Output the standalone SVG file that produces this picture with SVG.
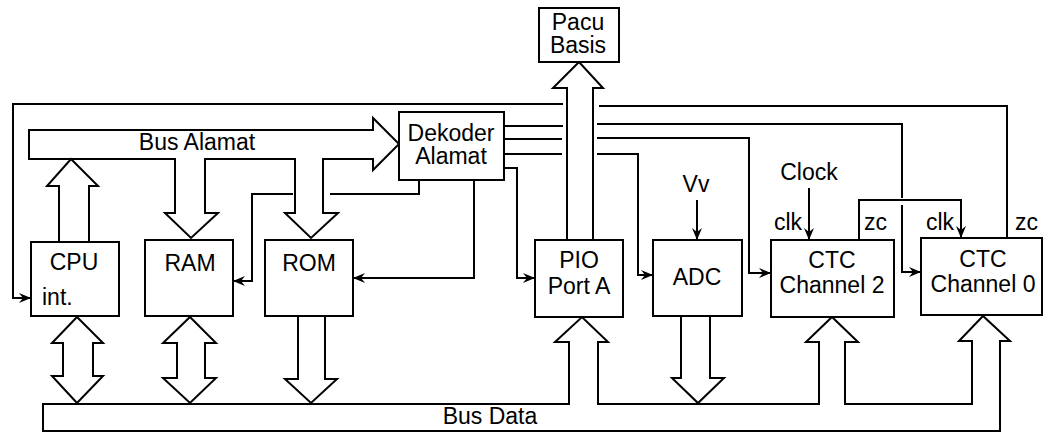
<svg xmlns="http://www.w3.org/2000/svg" width="1044" height="432" viewBox="0 0 1044 432">
<style>
.box{fill:#fff;stroke:#000;stroke-width:2}
.bus{fill:#fff;stroke:#000;stroke-width:2;stroke-linejoin:miter}
.ln{fill:none;stroke:#000;stroke-width:2}
.ar{fill:none;stroke:#000;stroke-width:2;marker-end:url(#ah)}
text{font-family:"Liberation Sans",Arial,sans-serif;font-size:23px;fill:#000}
.c{text-anchor:middle}
</style>
<defs>
<marker id="ah" viewBox="0 0 12 10" refX="12" refY="5" markerWidth="12" markerHeight="10" orient="auto" markerUnits="userSpaceOnUse">
<path d="M0,0 L12,5 L0,10 L4,5 z" fill="#000"/>
</marker>
</defs>
<rect width="1044" height="432" fill="#fff"/>

<g id="buses">
<polygon class="bus" points="29,130 373,130 373,118 399,144 373,170 373,159 323,159 323,213 338,213 311,238 285,213 295,213 295,159 205,159 205,213 218,213 191,238 165,213 175,213 175,159 29,159"/>
<polygon class="bus" points="59,242 59,186 47,186 71,159 98,186 89,186 89,242"/>
<polygon class="bus" points="567,240 567,88 553,88 579,62 603,88 593,88 593,240"/>
<polygon class="bus" points="569,342 569,404 43,404 43,431 1000,431 1000,341 1010,341 983,316 959,341 972,341 972,404 845,404 845,342 858,342 832,317 806,342 819,342 819,404 598,404 598,342 608,342 582,317 555,342"/>
<polygon class="bus" points="77,317 103,343 93,343 93,376 103,376 77,403 52,376 63,376 63,343 52,343"/>
<polygon class="bus" points="190,317 216,343 205,343 205,378 216,378 190,403 163,378 177,378 177,343 163,343"/>
<polygon class="bus" points="298,316 298,379 285,379 311,403 337,379 325,379 325,316"/>
<polygon class="bus" points="681,316 681,378 672,378 698,403 724,378 710,378 710,316"/>
<text class="c" x="197" y="150">Bus Alamat</text>
<text class="c" x="490" y="424">Bus Data</text>
</g>

<g id="connectors">
<polyline class="ar" points="563,104 13,104 13,298 31,298"/>
<polyline class="ln" points="599,106 1007,106 1007,238"/>
<line class="ln" x1="504" y1="126" x2="563" y2="126"/>
<line class="ln" x1="504" y1="139" x2="562" y2="139"/>
<line class="ln" x1="504" y1="154" x2="562" y2="154"/>
<polyline class="ln" points="597,124 902,124 902,198"/>
<polyline class="ar" points="902,205 902,272 921,272"/>
<polyline class="ar" points="597,138 749,138 749,273 771,273"/>
<polyline class="ar" points="597,154 638,154 638,275 653,275"/>
<polyline class="ar" points="504,168 517,168 517,278 535,278"/>
<polyline class="ln" points="419,180 419,194 330,194"/>
<polyline class="ar" points="293,194 252,194 252,281 233,281"/>
<polyline class="ar" points="474,180 474,278 353,278"/>
<line class="ar" x1="697" y1="200" x2="697" y2="240"/>
<line class="ar" x1="809" y1="188" x2="809" y2="240"/>
<polyline class="ar" points="859,240 859,200 961,200 961,238"/>
</g>

<g id="pacu">
<rect class="box" x="539" y="8" width="80" height="54"/>
<text class="c" x="578" y="30">Pacu</text>
<text class="c" x="578" y="53">Basis</text>
</g>
<g id="dekoder">
<rect class="box" x="399" y="112" width="105" height="68"/>
<text class="c" x="451" y="141">Dekoder</text>
<text class="c" x="451" y="164">Alamat</text>
</g>
<g id="cpu">
<rect class="box" x="31" y="242" width="88" height="74"/>
<text class="c" x="74" y="270">CPU</text>
<text x="42" y="305">int.</text>
</g>
<g id="ram">
<rect class="box" x="145" y="240" width="88" height="76"/>
<text class="c" x="190" y="271">RAM</text>
</g>
<g id="rom">
<rect class="box" x="265" y="240" width="88" height="76"/>
<text class="c" x="309" y="271">ROM</text>
</g>
<g id="pio">
<rect class="box" x="535" y="240" width="88" height="77"/>
<text class="c" x="579" y="268">PIO</text>
<text class="c" x="579" y="294">Port A</text>
</g>
<g id="adc">
<rect class="box" x="653" y="240" width="89" height="76"/>
<text class="c" x="697" y="285">ADC</text>
<text class="c" x="696" y="192">Vv</text>
</g>
<g id="ctc2">
<rect class="box" x="771" y="240" width="123" height="77"/>
<text class="c" x="832" y="268">CTC</text>
<text class="c" x="832" y="293">Channel 2</text>
<text class="c" x="809" y="180">Clock</text>
<text x="774" y="230">clk</text>
<text x="864" y="230">zc</text>
</g>
<g id="ctc0">
<rect class="box" x="921" y="238" width="121" height="77"/>
<text class="c" x="983" y="267">CTC</text>
<text class="c" x="983" y="292">Channel 0</text>
<text x="926" y="230">clk</text>
<text x="1015" y="230">zc</text>
</g>
</svg>
